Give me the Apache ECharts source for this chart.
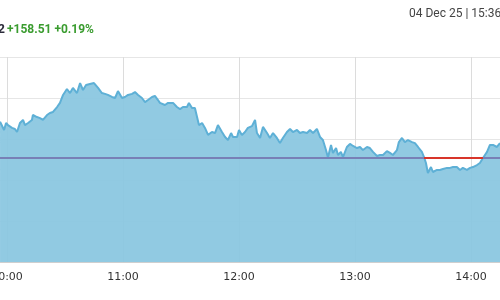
<!DOCTYPE html>
<html>
<head>
<meta charset="utf-8">
<script src="https://cdn.jsdelivr.net/npm/echarts@6/dist/echarts.min.js"></script>
<style>html,body{margin:0;padding:0;background:#fff}#c{width:500px;height:300px}</style>
</head>
<body>
<div id="c"></div>
<script>
const times = ["09:56:24","09:57:24","09:58:30","09:59:30","10:00:30","10:02:36","10:04:06","10:05:12","10:06:42","10:08:18","10:09:18","10:10:54","10:12:54","10:13:24","10:15:30","10:17:06","10:18:36","10:20:42","10:22:12","10:23:48","10:25:54","10:27:24","10:29:00","10:31:00","10:32:36","10:34:06","10:36:12","10:37:48","10:39:18","10:40:54","10:42:54","10:45:00","10:47:06","10:49:06","10:50:42","10:52:12","10:54:18","10:55:54","10:57:24","10:59:30","11:01:00","11:02:36","11:04:42","11:06:12","11:07:48","11:09:48","11:11:24","11:12:54","11:15:00","11:16:30","11:18:06","11:19:06","11:21:42","11:23:18","11:25:54","11:27:54","11:29:30","11:31:00","11:33:06","11:34:06","11:35:42","11:37:12","11:38:18","11:39:18","11:40:54","11:42:24","11:44:00","11:46:00","11:47:36","11:49:06","11:51:12","11:52:48","11:54:18","11:55:54","11:56:54","11:59:00","12:00:00","12:01:30","12:03:06","12:04:36","12:06:42","12:08:18","12:09:18","12:10:54","12:12:24","12:14:30","12:16:00","12:17:36","12:19:36","12:21:12","12:22:42","12:24:48","12:26:24","12:27:54","12:30:00","12:31:30","12:33:06","12:35:12","12:36:42","12:38:18","12:40:18","12:41:54","12:43:24","12:45:00","12:46:00","12:47:36","12:48:36","12:50:12","12:51:12","12:52:42","12:53:48","12:55:48","12:57:24","12:59:00","13:01:00","13:02:36","13:04:06","13:06:12","13:07:42","13:09:18","13:11:24","13:12:54","13:14:30","13:16:30","13:18:06","13:19:36","13:21:42","13:22:42","13:24:18","13:25:48","13:27:24","13:29:30","13:31:00","13:32:36","13:34:36","13:35:42","13:36:42","13:37:42","13:39:18","13:40:18","13:42:24","13:43:54","13:45:30","13:47:36","13:49:06","13:50:42","13:52:42","13:54:18","13:55:48","13:57:54","13:59:30","14:01:00","14:03:06","14:04:36","14:06:12","14:08:18","14:09:48","14:11:24","14:13:24","14:15:00"];
const prices = [85284,85293,85244,85278,85268,85254,85249,85234,85278,85293,85268,85278,85293,85317,85307,85302,85293,85317,85327,85332,85356,85376,85415,85444,85424,85449,85424,85473,85439,85463,85468,85473,85449,85424,85420,85415,85405,85400,85434,85400,85405,85415,85420,85429,85415,85400,85380,85390,85405,85410,85390,85376,85366,85376,85376,85356,85346,85356,85356,85376,85351,85351,85307,85268,85278,85254,85220,85234,85229,85268,85234,85210,85195,85229,85210,85210,85244,85220,85234,85254,85263,85293,85229,85205,85259,85229,85205,85229,85205,85180,85205,85234,85249,85234,85244,85229,85234,85229,85244,85229,85249,85210,85195,85146,85110,85171,85132,85156,85122,85137,85112,85161,85176,85166,85156,85161,85146,85161,85156,85137,85117,85122,85122,85141,85132,85122,85146,85185,85205,85185,85195,85185,85180,85161,85137,85112,85083,85034,85063,85039,85049,85049,85054,85059,85059,85063,85063,85049,85059,85049,85059,85063,85073,85083,85107,85137,85171,85171,85161,85180];
const prevClose = 85106.81;
const xTickLabels = ["10:00","11:00","12:00","13:00","14:00"];
const xRange = ["09:56:23","14:15:00"];
const headerPrice = "85,265.32";
const headerChange = "+158.51 +0.19%";
const headerDate = "04 Dec 25 | 15:36 |";

function toMin(s){const p=s.split(":").map(Number);return p[0]*60+p[1]+(p[2]||0)/60;}
function fmt(m){const h=Math.floor(m/60),mm=Math.round(m-h*60);return h+":"+String(mm).padStart(2,"0");}

const xs = times.map(toMin);
const priceData = xs.map((x,i)=>[x,prices[i]]);
const above = xs.map((x,i)=>{
  const ok = prices[i]>=prevClose || (i>0&&prices[i-1]>=prevClose) || (i<prices.length-1&&prices[i+1]>=prevClose);
  return [x, ok?prevClose:null];
});
const below = xs.map((x,i)=>{
  const ok = prices[i]<prevClose;
  const nb = (i>0&&prices[i-1]<prevClose) || (i<prices.length-1&&prices[i+1]<prevClose);
  return [x, (ok||nb)?prevClose:null];
});
const tickVals = xTickLabels.map(toMin);

const chart = echarts.init(document.getElementById('c'), null, {renderer:'canvas'});
chart.setOption({
  animation:false,
  grid:{left:0,right:0,top:57,bottom:38,containLabel:false,outerBoundsMode:'none'},
  xAxis:{type:'value',min:toMin(xRange[0]),max:toMin(xRange[1]),
    axisLine:{show:true,lineStyle:{color:'#cfcfcf'}},
    axisTick:{show:false,customValues:tickVals},
    axisLabel:{color:'#333',fontFamily:'DejaVu Sans',fontSize:11,margin:10,customValues:tickVals,formatter:v=>fmt(v),showMinLabel:true,showMaxLabel:true,hideOverlap:false},
    splitLine:{show:true,lineStyle:{color:'#dcdcdc',width:1}}},
  yAxis:{type:'value',min:84600,max:85600,interval:200,
    axisLine:{show:false},axisTick:{show:false},axisLabel:{show:false},
    splitLine:{show:true,lineStyle:{color:'#e6e6e6',width:1}}},
  series:[
    {type:'line',data:priceData,showSymbol:false,symbol:'none',z:2,
      lineStyle:{color:'#5eb0d6',width:2},
      areaStyle:{color:'rgb(137,198,224)',opacity:0.93,origin:'start'}},
    {type:'line',data:above,showSymbol:false,symbol:'none',z:3,connectNulls:false,
      lineStyle:{color:'#7880b6',width:2}},
    {type:'line',data:below,showSymbol:false,symbol:'none',z:4,connectNulls:false,
      lineStyle:{color:'#d8352a',width:2}}
  ],
  graphic:[
    {type:'text',x:5,y:30,style:{text:headerPrice,fill:'#2b2b3a',font:'bold 13px Roboto',textAlign:'right',textVerticalAlign:'middle'}},
    {type:'text',x:7,y:30,style:{text:headerChange,fill:'#3a9c2f',font:'bold 12px Roboto',textAlign:'left',textVerticalAlign:'middle'}},
    {type:'text',x:409,y:14,style:{text:headerDate,fill:'#444',font:'12px Roboto',textAlign:'left',textVerticalAlign:'middle'}}
  ]
});
</script>
</body>
</html>
